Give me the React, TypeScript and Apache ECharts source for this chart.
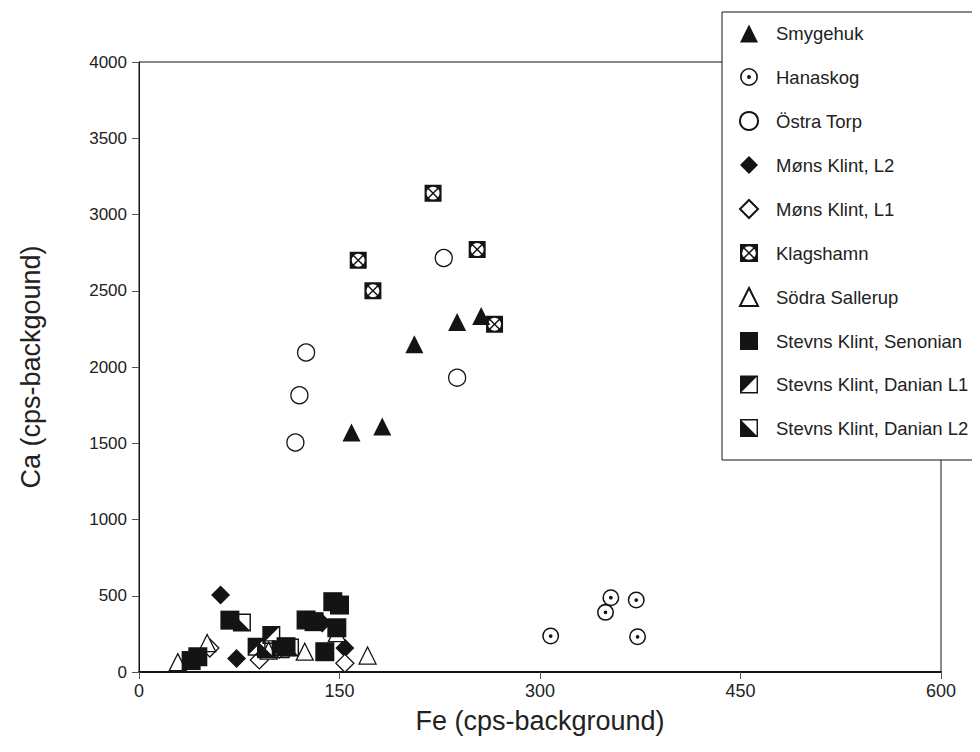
import React, { useEffect, useRef } from 'react';
import * as echarts from 'echarts';

const xTicks = [0, 150, 300, 450, 600];
const yTicks = [0, 500, 1000, 1500, 2000, 2500, 3000, 3500, 4000];

const smygehuk = [[159, 1570], [182, 1610], [206, 2150], [238, 2295], [256, 2335]];
const hanaskog = [[308, 236], [349, 391], [353, 487], [372, 472], [373, 231]];
const ostraTorp = [[117, 1505], [120, 1815], [125, 2095], [228, 2715], [238, 1930]];
const monsL2 = [[61, 505], [73, 88], [137, 322], [154, 157]];
const monsL1 = [[53, 157], [90, 79], [154, 57], [105, 150]];
const klagshamn = [[164, 2700], [175, 2500], [220, 3140], [253, 2770], [266, 2280]];
const sodraSallerup = [[29, 65], [51, 190], [124, 133], [171, 108], [148, 255], [97, 140]];
const stevnsSenonian = [[39, 75], [44, 100], [68, 340], [110, 166], [125, 341], [131, 330], [139, 133], [145, 461], [150, 439], [148, 290]];
const stevnsDanianL1 = [[99, 243], [88, 166], [106, 150]];
const stevnsDanianL2 = [[77, 325], [95, 150], [113, 160]];

const HANA = 'path://M0,50 A50,50 0 1,1 100,50 A50,50 0 1,1 0,50 Z M9,50 A41,41 0 1,0 91,50 A41,41 0 1,0 9,50 Z M39,50 A11,11 0 1,1 61,50 A11,11 0 1,1 39,50 Z';
const KLAG = 'path://M0,0 L100,0 L100,100 L0,100 Z M12,50 A38,38 0 1,0 88,50 A38,38 0 1,0 12,50 Z M19,25 L25,19 L81,75 L75,81 Z M75,19 L81,25 L25,81 L19,75 Z';
const DAN1 = 'path://M0,0 L100,0 L100,100 L0,100 Z M8,8 L8,92 L92,92 L92,8 Z M0,0 L100,0 L0,100 Z';
const DAN2 = 'path://M0,0 L100,0 L100,100 L0,100 Z M8,8 L8,92 L92,92 L92,8 Z M0,0 L100,100 L0,100 Z';

const FONT = 'Liberation Sans';
const INK = '#141414';

export default function App() {
  const ref = useRef<HTMLDivElement>(null);
  useEffect(() => {
    if (!ref.current) return;
    const chart = echarts.init(ref.current, undefined, { renderer: 'svg' });
    const filled = { color: INK, borderWidth: 0, opacity: 1 };
    const open = { color: '#fff', borderColor: INK, borderWidth: 1.3, opacity: 1 };
    const mk = (name: string, data: number[][], symbol: string, size: number, itemStyle: any) => ({
      name, type: 'scatter', data, symbol, symbolSize: size, itemStyle,
      emphasis: { disabled: true },
    });
    chart.setOption({
      animation: false,
      backgroundColor: '#fff',
      textStyle: { fontFamily: FONT },
      grid: { left: 139, right: 39, top: 62, bottom: 80, show: true, borderColor: INK, borderWidth: 1 },
      xAxis: {
        type: 'value', min: 0, max: 600, interval: 150,
        name: 'Fe (cps-background)', nameLocation: 'middle', nameGap: 35,
        nameTextStyle: { fontSize: 27, color: '#222', fontFamily: FONT },
        axisLine: { lineStyle: { color: INK, width: 2 } },
        axisTick: { show: true, length: 7, lineStyle: { color: '#555' } },
        axisLabel: { fontSize: 18, color: '#222', margin: 10, fontFamily: FONT,
          formatter: (v: number) => (xTicks.includes(v) ? String(v) : '') },
        splitLine: { show: false },
      },
      yAxis: {
        type: 'value', min: 0, max: 4000, interval: 500,
        name: 'Ca (cps-backgound)', nameLocation: 'middle', nameGap: 95, nameRotate: 90,
        nameTextStyle: { fontSize: 27, color: '#222', fontFamily: FONT },
        axisLine: { show: true, lineStyle: { color: INK, width: 1 } },
        axisTick: { show: true, length: 7, lineStyle: { color: '#555' } },
        axisLabel: { fontSize: 17, color: '#222', margin: 12, fontFamily: FONT,
          formatter: (v: number) => (yTicks.includes(v) ? String(v) : '') },
        splitLine: { show: false },
      },
      legend: {
        orient: 'vertical', left: 734, top: 19, itemWidth: 18, itemHeight: 18, itemGap: 24.5,
        selectedMode: false, z: 6,
        formatter: (n: string) => '{g|}{t|' + n + '}',
        textStyle: {
          fontSize: 18.5, color: '#222', fontFamily: FONT,
          rich: { g: { width: 13 }, t: { fontSize: 18.5, color: '#222', fontFamily: FONT } },
        },
      },
      graphic: [{
        type: 'rect', z: 5, shape: { x: 722, y: 12, width: 320, height: 448 },
        style: { fill: '#fff', stroke: INK, lineWidth: 1 },
      }],
      series: [
        mk('Smygehuk', smygehuk, 'triangle', 18, filled),
        mk('Hanaskog', hanaskog, HANA, 17, filled),
        mk('Östra Torp', ostraTorp, 'circle', 17, open),
        mk('Møns Klint, L2', monsL2, 'diamond', 19, filled),
        mk('Møns Klint, L1', monsL1, 'diamond', 18, open),
        mk('Klagshamn', klagshamn, KLAG, 17, filled),
        mk('Södra Sallerup', sodraSallerup, 'triangle', 17, open),
        mk('Stevns Klint, Senonian', stevnsSenonian, 'rect', 19, filled),
        mk('Stevns Klint, Danian L1', stevnsDanianL1, DAN1, 18, filled),
        mk('Stevns Klint, Danian L2', stevnsDanianL2, DAN2, 18, filled),
      ],
    });
    return () => chart.dispose();
  }, []);
  return <div ref={ref} style={{ width: 980, height: 752, margin: -8 }} />;
}
